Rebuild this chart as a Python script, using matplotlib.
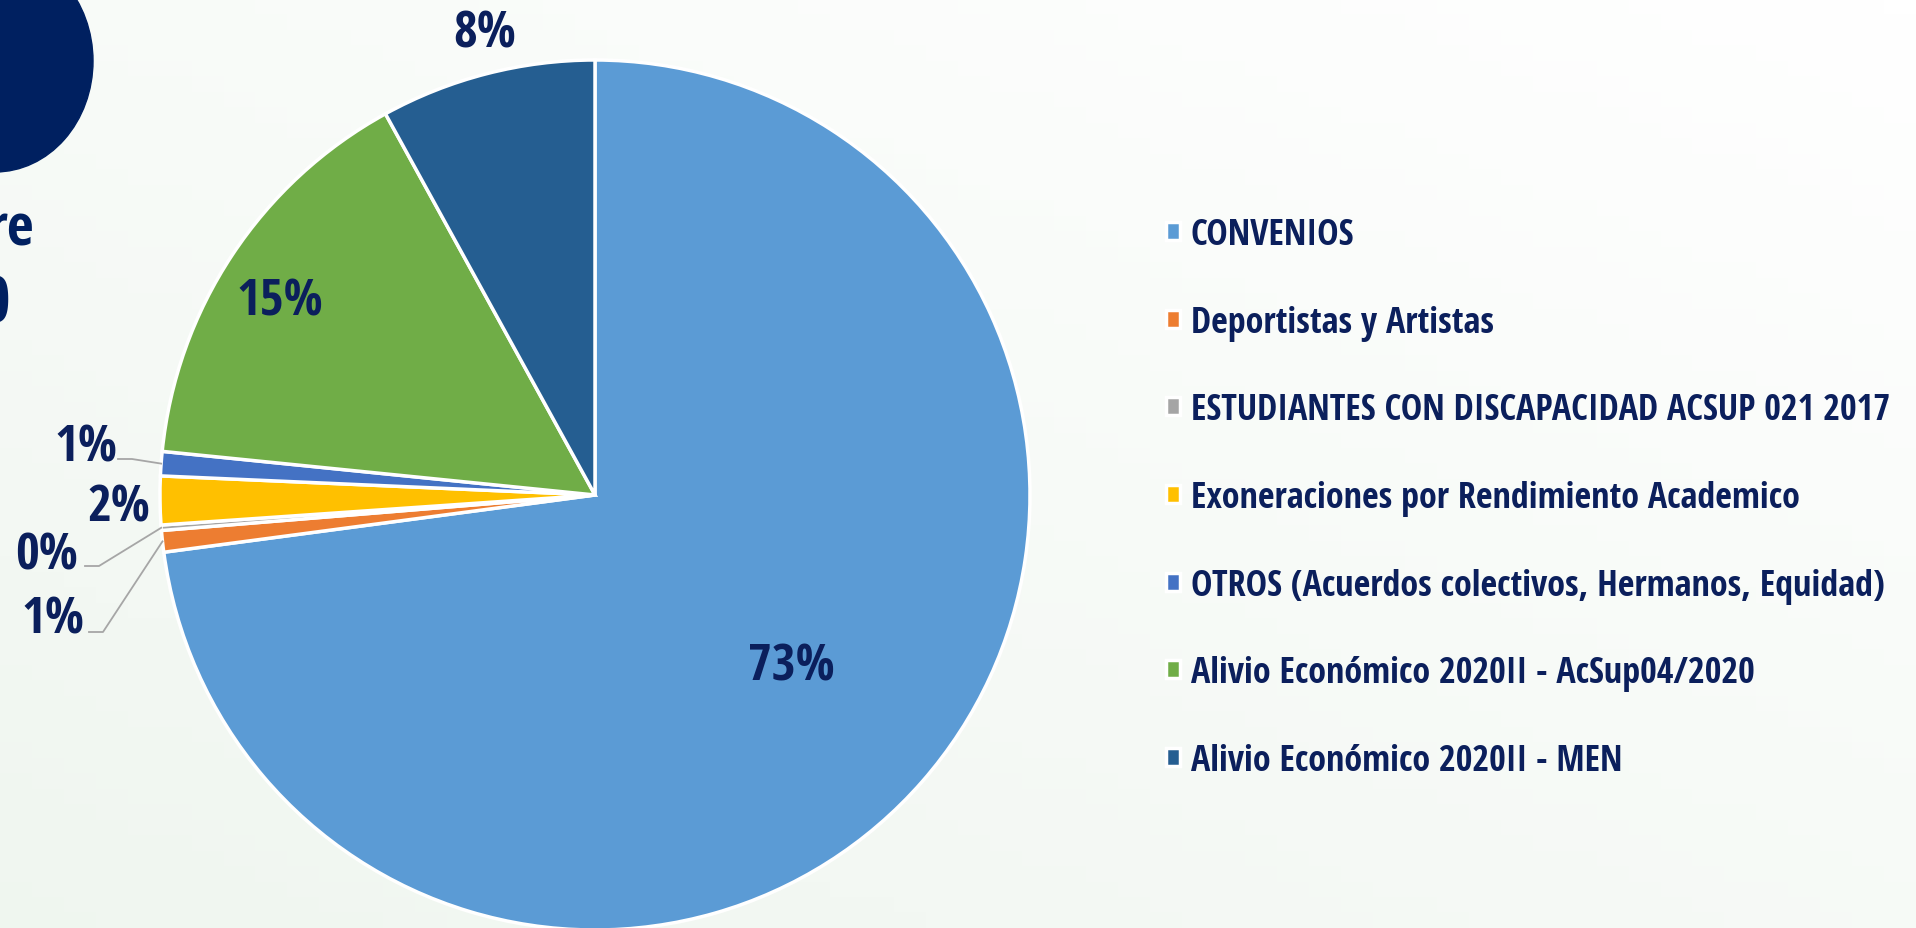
import numpy as np
import matplotlib.pyplot as plt
from matplotlib.patches import Ellipse

categories = [
    'CONVENIOS',
    'Deportistas y Artistas',
    'ESTUDIANTES CON DISCAPACIDAD ACSUP 021 2017',
    'Exoneraciones por Rendimiento Academico',
    'OTROS (Acuerdos colectivos, Hermanos, Equidad)',
    'Alivio Económico 2020II - AcSup04/2020',
    'Alivio Económico 2020II - MEN',
]
shares = [72.9, 0.8, 0.2, 1.8, 0.9, 15.4, 8.0]
colors = ['#5B9BD5', '#ED7D31', '#A5A5A5', '#FFC000', '#4472C4', '#70AD47', '#255E91']

NAVY = '#0B1F5C'
FONT = ['Open Sans Condensed', 'DejaVu Sans']
W, H = 1916, 929
CX, CY, R = 595, 496, 435   # pie centre / radius in pixels


def px(x, y):
    # pixel position -> pie data coords
    return (x - CX) / R, (CY - y) / R


fig = plt.figure(figsize=(W / 100, H / 100), dpi=100)

# background: faint green gradient, slide fragments at the top left
bg = fig.add_axes([0, 0, 1, 1], zorder=-1)
bg.set_xlim(0, W)
bg.set_ylim(H, 0)
bg.axis('off')
gx, gy = np.meshgrid(np.linspace(0, 1, 60), np.linspace(0, 1, 60))
t = np.clip(0.55 * gy + 0.45 * (1 - gx), 0, 1)[..., None]
grad = (1 - t) * np.array([1.0, 1.0, 1.0]) + t * np.array([0.94, 0.965, 0.94])
bg.imshow(grad, extent=(0, W, H, 0), aspect='auto')
bg.add_patch(Ellipse((-5, 62), 196, 222, color='#002060'))
bg.text(34, 245, 're', ha='right', va='baseline', fontsize=42,
        fontweight='bold', family=FONT, color='#002060')
bg.text(10, 322, '0', ha='right', va='baseline', fontsize=46,
        fontweight='bold', family=FONT, color='#002060')

ax = fig.add_axes([(CX - R) / W, (H - CY - R) / H, 2 * R / W, 2 * R / H])
wedges, _ = ax.pie(shares, colors=colors, startangle=90, counterclock=False,
                   radius=1, wedgeprops=dict(edgecolor='white', linewidth=2.5))
ax.set_xlim(-1, 1)
ax.set_ylim(-1, 1)
ax.set_aspect('equal')
ax.axis('off')

labels = [f'{round(v)}%' for v in shares]
lab_kw = dict(fontsize=37, fontweight='bold', family=FONT, color=NAVY,
              ha='center', va='center')

# labels placed along the slice's middle angle (radius, angle nudge)
radial = {0: (0.6, 0), 5: (0.85, 2), 6: (1.09, -1)}
for i, (r, nudge) in radial.items():
    w = wedges[i]
    a = np.deg2rad((w.theta1 + w.theta2) / 2 + nudge)
    ax.text(r * np.cos(a), r * np.sin(a), labels[i], clip_on=False, **lab_kw)

# small slices: labels out on the left with leader lines
outside = {
    4: ((86, 449), (118, 460)),
    3: ((119, 509), None),
    2: ((47, 557), (85, 567)),
    1: ((53, 621), (89, 633)),
}
for i, (pos, lead) in outside.items():
    ax.text(*px(*pos), labels[i], clip_on=False, **lab_kw)
    if lead is None:
        continue
    w = wedges[i]
    a = np.deg2rad((w.theta1 + w.theta2) / 2)
    x0, y0 = px(*lead)
    x1 = x0 + 14 / R
    ax.plot([x0, x1, 1.0 * np.cos(a)], [y0, y0, 1.0 * np.sin(a)],
            color='#A6A6A6', lw=1.3, clip_on=False)

fig.legend(wedges, categories, loc='upper left',
           bbox_to_anchor=(1166 / W, 1 - 218 / H), frameon=False,
           prop=dict(family=FONT, weight='bold', size=26), labelcolor=NAVY,
           handlelength=0.38, handleheight=0.38, handletextpad=0.3,
           labelspacing=1.43, borderpad=0, borderaxespad=0)

fig.savefig('out.png', dpi=100)
